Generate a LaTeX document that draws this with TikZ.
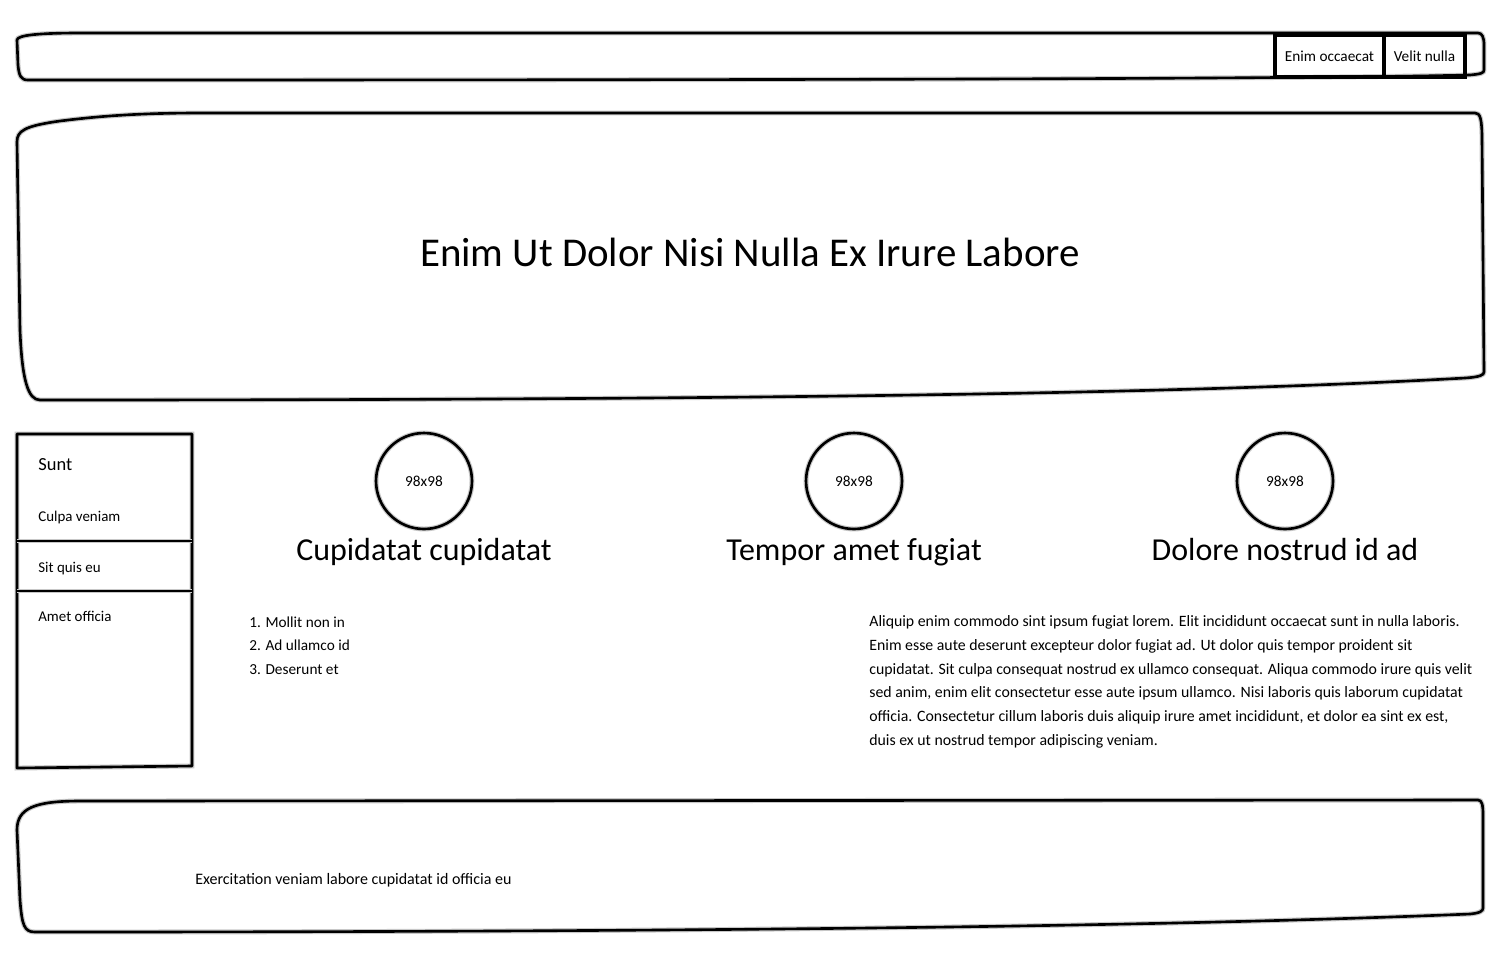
\documentclass[tikz,border=0pt]{standalone}
\usepackage{fontspec}
\setmainfont{Carlito}
\usetikzlibrary{positioning}

\begin{document}
\begin{tikzpicture}[x=0.02cm,y=-0.02cm,
sk/.style={draw,line width=1.5pt,line join=round,preaction={draw=black!22,line width=2.8pt}},
btn/.style={draw,line width=1.8pt,inner sep=0,minimum height=0.84cm},
txt/.style={inner sep=0,anchor=base west,font=\fontsize{8.7}{13.45}\selectfont},
hd/.style={inner sep=0,anchor=base,font=\fontsize{18.2}{21}\selectfont}]
\useasboundingbox (0,0) rectangle (1500,965);
% top bar
\draw[sk] (17,40) .. controls (17,35) and (40,33) .. (80,33) -- (1478,33)
  .. controls (1482,33) and (1484,37) .. (1484,45) -- (1484,70)
  .. controls (1484,73) and (1481,74) .. (1470,75)
  .. controls (1300,79) and (800,80) .. (28,80)
  .. controls (21,80) and (19,76) .. (18,65) -- cycle;
\node(b1) at (1329.5,56) [btn,minimum width=2.18cm,font=\fontsize{8.7}{10}\selectfont] {Enim occaecat};
\node(b2) at (1424.5,56) [btn,minimum width=1.62cm,font=\fontsize{8.7}{10}\selectfont] {Velit nulla};
% header
\draw[sk] (17,142) .. controls (17,131) and (24,126) .. (60,121)
  .. controls (100,116) and (140,113) .. (200,113) -- (1475,113)
  .. controls (1480,113) and (1482,118) .. (1482,140) -- (1484,372)
  .. controls (1484,375) and (1480,377) .. (1465,378)
  .. controls (1200,393) and (800,400) .. (40,400)
  .. controls (28,400) and (22,380) .. (20,330) -- cycle;
\node(title) at (750,266) [inner sep=0,anchor=base,font=\fontsize{23.3}{28}\selectfont] {Enim Ut Dolor Nisi Nulla Ex Irure Labore};
% sidebar
\draw[sk] (17,434) -- (192,434) -- (192,766) -- (17,768) -- cycle;
\draw[sk] (17,541) -- (192,541);
\draw[sk] (17,591) -- (192,591);
\node(s0) at (38,470) [txt,font=\fontsize{10.5}{12}\selectfont] {Sunt};
\node(s1) at (38,521) [txt,font=\fontsize{8.5}{10}\selectfont] {Culpa veniam};
\node(s2) at (38,572) [txt,font=\fontsize{8.5}{10}\selectfont] {Sit quis eu};
\node(s3) at (38,621) [txt,font=\fontsize{8.5}{10}\selectfont] {Amet officia};
% features
\node(c1) at (424,481) [circle,sk,inner sep=0,minimum size=1.92cm,font=\fontsize{8.7}{10}\selectfont] {98x98};
\node(c2) at (854,481) [circle,sk,inner sep=0,minimum size=1.92cm,font=\fontsize{8.7}{10}\selectfont] {98x98};
\node(c3) at (1285,481) [circle,sk,inner sep=0,minimum size=1.92cm,font=\fontsize{8.7}{10}\selectfont] {98x98};
\node(h1) at (424,560) [hd] {Cupidatat cupidatat};
\node(h2) at (854,560) [hd] {Tempor amet fugiat};
\node(h3) at (1285,560) [hd] {Dolore nostrud id ad};
\node(l1) at (249,627) [txt] {1. Mollit non in};
\node(l2) at (249,650) [txt] {2. Ad ullamco id};
\node(l3) at (249,674) [txt] {3. Deserunt et};
\node(para) at (869,745) [txt,align=left,font=\fontsize{9}{13.45}\selectfont] {Aliquip enim commodo sint ipsum fugiat lorem. Elit incididunt occaecat sunt in nulla laboris.\\
Enim esse aute deserunt excepteur dolor fugiat ad. Ut dolor quis tempor proident sit\\
cupidatat. Sit culpa consequat nostrud ex ullamco consequat. Aliqua commodo irure quis velit\\
sed anim, enim elit consectetur esse aute ipsum ullamco. Nisi laboris quis laborum cupidatat\\
officia. Consectetur cillum laboris duis aliquip irure amet incididunt, et dolor ea sint ex est,\\
duis ex ut nostrud tempor adipiscing veniam.};
% footer
\draw[sk] (17,830) .. controls (17,808) and (35,801) .. (80,801) -- (1478,800)
  .. controls (1482,800) and (1483,805) .. (1483,815) -- (1483,908)
  .. controls (1483,911) and (1480,913) .. (1470,914)
  .. controls (1200,925) and (800,932) .. (35,932)
  .. controls (24,932) and (22,925) .. (20,900) -- cycle;
\node(foot) at (195,884) [txt,font=\fontsize{9.1}{11}\selectfont] {Exercitation veniam labore cupidatat id officia eu};
\end{tikzpicture}
\end{document}
